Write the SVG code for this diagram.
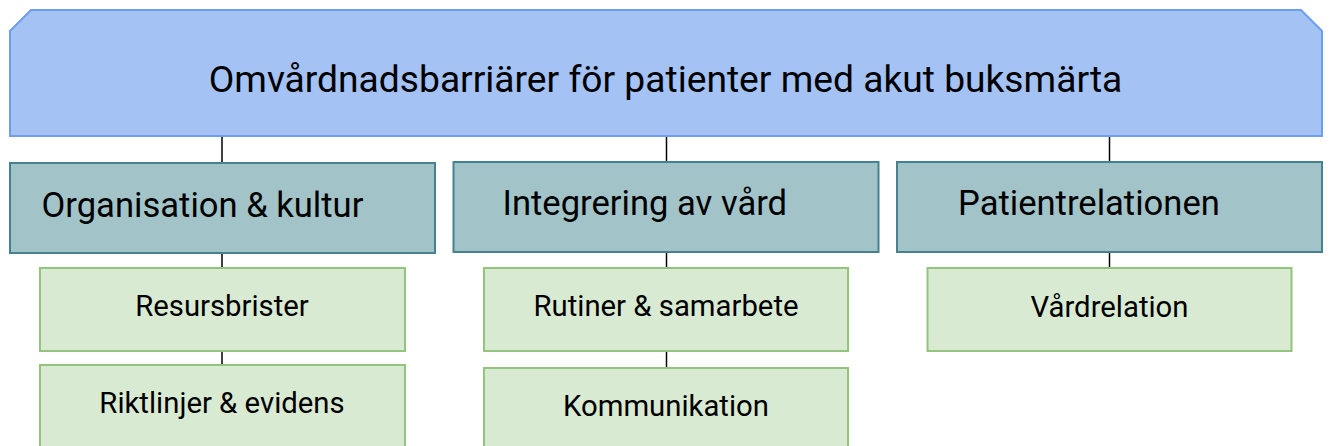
<svg xmlns="http://www.w3.org/2000/svg" width="1330" height="446" viewBox="0 0 1330 446">
<style>
.banner{fill:#a4c2f4;stroke:#6d9eeb;stroke-width:2}
.cat{fill:#a2c4c9;stroke:#45818e;stroke-width:2}
.sub{fill:#d9ead3;stroke:#93c47d;stroke-width:2}
.conn{stroke:#000;stroke-width:1.5;fill:none}
text{font-family:Roboto,"Liberation Sans",sans-serif;fill:#000}
.t1{font-size:37.2px}
.t2{font-size:34.6px}
.t3{font-size:29.3px;text-anchor:middle}
</style>
<g id="connectors">
<line class="conn" x1="222" y1="136" x2="222" y2="163"/>
<line class="conn" x1="222" y1="253" x2="222" y2="268"/>
<line class="conn" x1="222" y1="351" x2="222" y2="365"/>
<line class="conn" x1="666.5" y1="136" x2="666.5" y2="162"/>
<line class="conn" x1="666.5" y1="252" x2="666.5" y2="268"/>
<line class="conn" x1="666.5" y1="351" x2="666.5" y2="368"/>
<line class="conn" x1="1109.5" y1="136" x2="1109.5" y2="162"/>
<line class="conn" x1="1109.5" y1="252" x2="1109.5" y2="268"/>
</g>
<g id="banner">
<polygon class="banner" points="31,10 1301,10 1322,31 1322,136 10,136 10,31"/>
<text class="t1" x="665.5" y="91.5" text-anchor="middle">Omvårdnadsbarriärer för patienter med akut buksmärta</text>
</g>
<g id="cat-organisation">
<rect class="cat" x="10" y="163" width="425" height="90"/>
<text class="t2" x="41.5" y="217">Organisation &amp; kultur</text>
</g>
<g id="cat-integrering">
<rect class="cat" x="453.5" y="162" width="425" height="90"/>
<text class="t2" x="502.5" y="215">Integrering av vård</text>
</g>
<g id="cat-patient">
<rect class="cat" x="897" y="162" width="425" height="90"/>
<text class="t2" x="958" y="215">Patientrelationen</text>
</g>
<g id="sub-resursbrister">
<rect class="sub" x="40" y="268" width="365" height="83"/>
<text class="t3" x="222" y="316">Resursbrister</text>
</g>
<g id="sub-riktlinjer">
<rect class="sub" x="40" y="365" width="365" height="90"/>
<text class="t3" x="222" y="413">Riktlinjer &amp; evidens</text>
</g>
<g id="sub-rutiner">
<rect class="sub" x="484" y="268" width="364" height="83"/>
<text class="t3" x="666" y="316">Rutiner &amp; samarbete</text>
</g>
<g id="sub-kommunikation">
<rect class="sub" x="484" y="368" width="364" height="90"/>
<text class="t3" x="666" y="416">Kommunikation</text>
</g>
<g id="sub-vardrelation">
<rect class="sub" x="927.5" y="268" width="364" height="83"/>
<text class="t3" x="1109.5" y="317">Vårdrelation</text>
</g>
</svg>
